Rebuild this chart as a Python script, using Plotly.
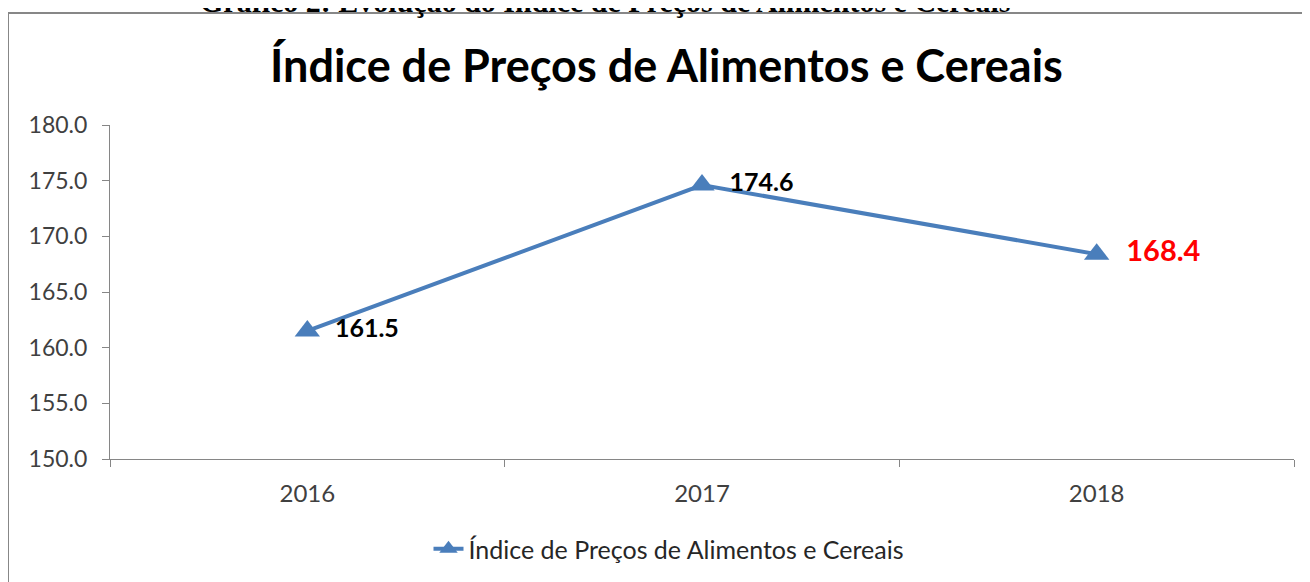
import plotly.graph_objects as go

years = ["2016", "2017", "2018"]
values = [161.5, 174.6, 168.4]
label_colors = ["#000000", "#000000", "#FF0000"]
label_sizes = [25, 25, 29]
y_ticks = [150, 155, 160, 165, 170, 175, 180]
series_name = "Índice de Preços de Alimentos e Cereais"
chart_title = "Índice de Preços de Alimentos e Cereais"
caption = "Gráfico 2: Evolução do Índice de Preços de Alimentos e Cereais"

# page offset (default body margin of 8px)
OX, OY = 8, 8
W, H = 1310, 582
PL, PR, PT, PB = 110, 1294, 125, 459  # plot area in page pixels
L, T = PL - OX, PT - OY
R, B = W - (PR - OX), H - (PB - OY)
pw, ph = PR - PL, PB - PT

def px_x(x):
    return (x - PL) / pw

def px_y(y):
    return (PB - y) / ph

fig = go.Figure()
fig.add_trace(go.Scatter(
    x=years, y=values, name=series_name,
    mode="lines+markers+text",
    line=dict(color="#4A7EBB", width=4),
    marker=dict(symbol="triangle-up", size=22, color="#4A7EBB"),
    text=[f"  <b>{v:.1f}</b>" for v in values],
    textposition="middle right",
    textfont=dict(family="Lato", size=label_sizes, color=label_colors),
    cliponaxis=False,
))

fig.update_layout(
    width=W, height=H,
    margin=dict(l=L, r=R, t=T, b=B),
    plot_bgcolor="white", paper_bgcolor="white",
    showlegend=True,
    legend=dict(orientation="h", x=px_x(669), xanchor="center", y=px_y(549), yanchor="middle",
                font=dict(family="Lato", size=25, color="#262626")),
    xaxis=dict(type="category", range=[-0.5, 2.5], showgrid=False, showline=True,
               linecolor="#868686", linewidth=1, ticks="outside", tickson="boundaries",
               ticklen=7, tickcolor="#868686",
               tickfont=dict(family="Lato", size=24, color="#404040"), ticklabelstandoff=13),
    yaxis=dict(range=[150, 180], tickvals=y_ticks, ticktext=[f"{v:.1f}" for v in y_ticks],
               showgrid=False, showline=True, linecolor="#868686", linewidth=1,
               ticks="outside", ticklen=7, tickcolor="#868686", zeroline=False,
               tickfont=dict(family="Lato", size=23, color="#404040"), ticklabelstandoff=10),
    font=dict(family="Lato"),
)

fig.add_annotation(xref="paper", yref="paper", x=px_x(666), y=px_y(65),
                   text=f"<b>{chart_title}</b>", showarrow=False,
                   xanchor="center", yanchor="middle",
                   font=dict(family="Lato", size=45, color="#000000"))
fig.add_annotation(xref="paper", yref="paper", x=px_x(605), y=px_y(2),
                   text=f"<b>{caption}</b>", showarrow=False,
                   xanchor="center", yanchor="middle",
                   font=dict(family="Liberation Serif", size=30, color="#000000"))
fig.add_shape(type="rect", xref="paper", yref="paper",
              x0=px_x(8), x1=px_x(1330), y0=px_y(600), y1=px_y(13),
              line=dict(color="#878787", width=2), layer="below")

fig.write_html("out.html")
